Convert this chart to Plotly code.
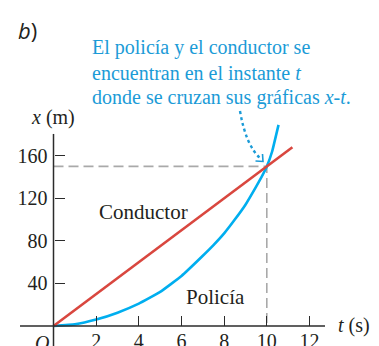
import plotly.graph_objects as go

W, H = 379, 346

# Conductor (velocidad constante)
t_conductor = [0, 11.2]
x_conductor = [0, 168]

# Policía (acelerando desde el reposo)
t_policia = [0, 1, 2, 3, 4, 5, 6, 7, 7.5, 8, 8.5, 9, 9.5, 9.75, 10, 10.25, 10.55]
x_policia = [0, 1.5, 6, 12.5, 21, 32, 47, 66, 76, 87, 100, 114, 131, 140, 150, 164, 189]

# punto de encuentro
t_cruce = 10
x_cruce = 150

x_ticks = [2, 4, 6, 8, 10, 12]
y_ticks = [40, 80, 120, 160]

colors = {
    'red': '#d9473f',
    'blue': '#00aeef',
    'text_blue': '#1b9bd7',
    'gray': '#a9a9a9',
    'axis': '#2b2b2b',
    'text': '#231f20',
}

# pixel -> data mapping (origin at px 53.5, 326)
px_per_s = 21.33
px_per_m = 1.064
ox, oy = 53.5, 326
t_range = [-ox / px_per_s, (W - ox) / px_per_s]
x_range = [(oy - H) / px_per_m, oy / px_per_m]


def px(xp, yp):
    return xp / W, 1 - yp / H


fig = go.Figure()

# dashed guide lines to the crossing
fig.add_trace(go.Scatter(
    x=[0, t_cruce, t_cruce], y=[x_cruce, x_cruce, 0],
    mode='lines', line=dict(color=colors['gray'], width=1.6, dash='10px,5px'),
    hoverinfo='skip'))

fig.add_trace(go.Scatter(
    x=t_policia, y=x_policia, mode='lines', name='Policía',
    line=dict(color=colors['blue'], width=2.6, shape='spline', smoothing=0.3)))

fig.add_trace(go.Scatter(
    x=t_conductor, y=x_conductor, mode='lines', name='Conductor',
    line=dict(color=colors['red'], width=2.6)))

shapes = [
    # axis lines
    dict(type='line', xref='x', yref='y', x0=-1.57, x1=12.73, y0=0, y1=0,
         line=dict(color=colors['axis'], width=1.5)),
    dict(type='line', xref='x', yref='y', x0=0, x1=0, y0=x_range[0], y1=180.5,
         line=dict(color=colors['axis'], width=1.5)),
]

# dotted callout arrow
sx, sy = px(240, 111)
cx, cy = px(246, 146)
ex, ey = px(261, 159)
shapes.append(dict(type='path', xref='paper', yref='paper',
                   path=f'M {sx},{sy} Q {cx},{cy} {ex},{ey}',
                   line=dict(color=colors['text_blue'], width=2.4, dash='dot')))
a1x, a1y = px(262.5, 154)
tx, ty = px(263, 161.5)
a2x, a2y = px(255.5, 161)
shapes.append(dict(type='path', xref='paper', yref='paper',
                   path=f'M {a1x},{a1y} L {tx},{ty} L {a2x},{a2y}',
                   line=dict(color=colors['text_blue'], width=1.6)))

serif = 'Liberation Serif'


def label(text, xp, yp, size=20, color=colors['text'], xanchor='left', family=serif):
    x, y = px(xp, yp)
    return dict(text=text, x=x, y=y, xref='paper', yref='paper', showarrow=False,
                xanchor=xanchor, yanchor='middle',
                font=dict(family=family, size=size, color=color))


annotations = [
    label('<i>b</i>)', 16, 30, size=22, family='Open Sans'),
    label('El policía y el conductor se', 90, 48, color=colors['text_blue']),
    label('encuentran en el instante <i>t</i>', 90, 73, color=colors['text_blue']),
    label('donde se cruzan sus gráficas <i>x</i>-<i>t</i>.', 90, 97, color=colors['text_blue']),
    label('<i>x</i> (m)', 29, 117),
    label('<i>t</i> (s)', 336, 325),
    label('Conductor', 97, 212, size=21),
    label('Policía', 184, 297, size=21),
    label('<i>O</i>', 42, 343, xanchor='center'),
]

fig.update_layout(
    width=W, height=H,
    margin=dict(l=0, r=0, t=0, b=0),
    paper_bgcolor='white', plot_bgcolor='white',
    showlegend=False,
    shapes=shapes,
    annotations=annotations,
    xaxis=dict(range=t_range, domain=[0, 1], anchor='free', position=(H - oy) / H,
               showgrid=False, zeroline=False, showline=False,
               tickvals=x_ticks, ticks='inside', ticklen=10, tickwidth=1.4,
               tickcolor=colors['axis'], ticklabelstandoff=1, automargin=False,
               tickfont=dict(family=serif, size=20, color=colors['text'])),
    yaxis=dict(range=x_range, domain=[0, 1], anchor='free', position=ox / W,
               showgrid=False, zeroline=False, showline=False,
               tickvals=y_ticks, ticks='inside', ticklen=10, tickwidth=1.4,
               tickcolor=colors['axis'], ticklabelstandoff=6, automargin=False,
               tickfont=dict(family=serif, size=20, color=colors['text'])),
)

# page body has an 8px default margin; drop it so the figure sits at the corner
fig.write_html("out.html", config={'displayModeBar': False},
               post_script="document.body.style.margin='0';")
